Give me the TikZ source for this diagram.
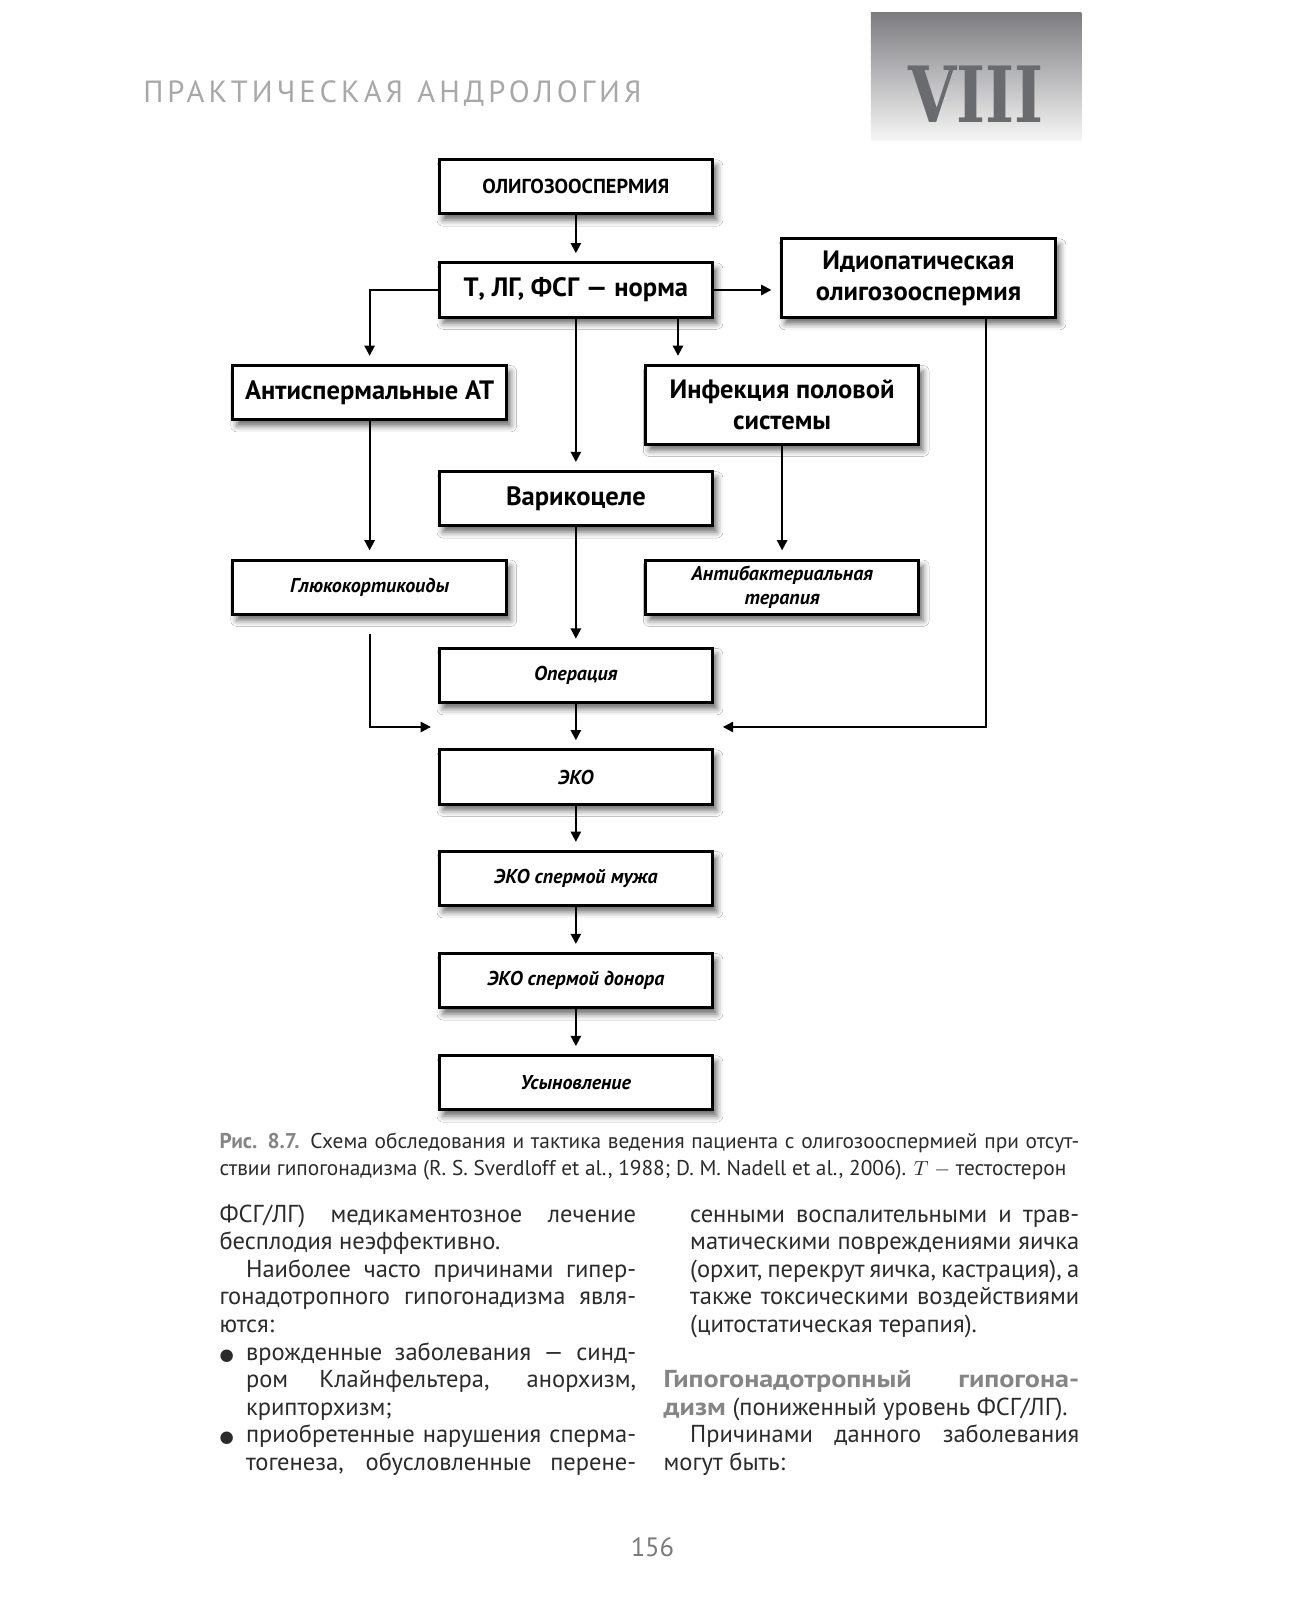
\documentclass[tikz,border=0pt]{standalone}
\usepackage{fontspec}
\setmainfont{PT Sans}
\newfontfamily\hdrfont[LetterSpace=13]{PT Sans}
\newfontfamily\viiifont{DejaVu Serif}
\newfontfamily\dvfont{DejaVu Sans}
\usetikzlibrary{arrows.meta,shadows.blur,calc}
\definecolor{txtc}{HTML}{2B2B2B}
\definecolor{grayhd}{HTML}{858585}
\definecolor{hdrc}{HTML}{A8A8A8}
\definecolor{viiic}{HTML}{6A6B6E}
\definecolor{pgnum}{HTML}{7A7A7A}
\definecolor{gradtop}{HTML}{7C7C80}
\definecolor{gradbot}{HTML}{F6F6F6}
\newcommand{\jl}[2]{\makebox[#1][s]{#2}}
\newcommand{\bul}{\makebox[0pt][r]{\dvfont\fontsize{8}{10}\selectfont ●\hspace{6pt}}}
\tikzset{
  box/.style={draw=black, line width=1.5pt, fill=white, minimum width=134pt,
    minimum height=26.5pt, inner sep=2pt, align=center, text=black,
    blur shadow={shadow xshift=2pt, shadow yshift=-3pt, shadow blur radius=3pt, shadow opacity=60}},
  bigtxt/.style={font=\fontsize{13}{15}\selectfont\bfseries},
  captxt/.style={font=\fontsize{9.9}{11}\selectfont\bfseries},
  ittxt/.style={font=\fontsize{9.8}{12}\selectfont\bfseries\itshape},
  arr/.style={line width=1pt, -{Triangle[length=5pt,width=5pt]}, shorten >=4pt},
  arrn/.style={line width=1pt, -{Triangle[length=5pt,width=5pt]}},
  txt/.style={inner sep=0pt, outer sep=0pt, anchor=base west, text=txtc,
    font=\fontsize{12}{13.5}\selectfont},
  captn/.style={inner sep=0pt, outer sep=0pt, anchor=base west, text=txtc,
    font=\fontsize{10.45}{13}\selectfont}
}
\begin{document}
\begin{tikzpicture}[x=0.5pt,y=-0.5pt]
\useasboundingbox (0,0) rectangle (1271,1568);
\fill[white] (0,0) rectangle (1271,1568);

% header
\node[inner sep=0pt, anchor=base west, text=hdrc, font=\hdrfont\fontsize{15}{17}\selectfont] (hdr) at (140,100) {ПРАКТИЧЕСКАЯ\hspace{7pt}АНДРОЛОГИЯ};
\shade[top color=gradtop, bottom color=gradbot] (853,12) rectangle (1059,138);
\node[inner sep=0pt, text=viiic, font=\viiifont\bfseries\fontsize{38}{40}\selectfont] (viii) at (956,92) {\scalebox{0.8}[1]{VIII}};

% boxes
\node[box, captxt] (b1) at (564,183) {ОЛИГОЗООСПЕРМИЯ};
\node[box, bigtxt] (b2) at (564,284) {Т, ЛГ, ФСГ — норма};
\node[box, bigtxt, minimum width=134.5pt, minimum height=38.5pt] (id) at (899.5,272.5) {Идиопатическая\\олигозооспермия};
\node[box, bigtxt] (an) at (362,384.5) {Антиспермальные АТ};
\node[box, bigtxt, minimum height=38.5pt] (inf) at (766,396.5) {Инфекция половой\\системы};
\node[box, bigtxt] (var) at (564,488.5) {Варикоцеле};
\node[box, ittxt] (gl) at (362,575) {Глюкокортикоиды};
\node[box, ittxt] (ab) at (766,575) {Антибактериальная\\терапия};
\node[box, ittxt] (op) at (564,661.5) {Операция};
\node[box, ittxt] (eko) at (564,761) {ЭКО};
\node[box, ittxt] (ekom) at (564,860.5) {ЭКО спермой мужа};
\node[box, ittxt] (ekod) at (564,960.5) {ЭКО спермой донора};
\node[box, ittxt] (us) at (564,1060.5) {Усыновление};

% connectors
\draw[arr] (b1) -- (b2);
\draw[arr] (b2.east) -- (b2.east -| id.west);
\draw[arr] (b2.west) -| (an.north);
\coordinate (b2r) at ($(b2.south)+(100,0)$);
\draw[arr] (b2r) -- (b2r |- inf.north);
\draw[arr] (b2) -- (var);
\draw[arr] (an) -- (gl);
\draw[arr] (inf) -- (ab);
\draw[arr] (var) -- (op);
\coordinate (g1) at ($(gl.south)+(0,18)$);
\coordinate (jl) at (422,712);
\draw[arrn] (g1) |- (jl);
\coordinate (idb) at ($(id.south)+(66.5,0)$);
\coordinate (jr) at (708,712);
\draw[arrn] (idb) |- (jr);
\draw[arr] (op) -- (eko);
\draw[arr] (eko) -- (ekom);
\draw[arr] (ekom) -- (ekod);
\draw[arr] (ekod) -- (us);

% caption
\node[captn] (c1) at (215,1125) {\jl{421pt}{{\color{grayhd}\bfseries Рис. 8.7.} Схема обследования и тактика ведения пациента с олигозооспермией при отсут-}};
\node[captn] (c2) at (215,1151) {ствии гипогонадизма (R. S. Sverdloff et al., 1988; D. M. Nadell et al., 2006). $T$ $-$ тестостерон};

% left column
\node[txt] (l1) at (215,1197) {\jl{204pt}{ФСГ/ЛГ) медикаментозное лечение}};
\node[txt] (l2) at (215,1224) {бесплодия неэффективно.};
\node[txt] (l3) at (241,1251) {\jl{191pt}{Наиболее часто причинами гипер-}};
\node[txt] (l4) at (215,1278) {\jl{204pt}{гонадотропного гипогонадизма явля-}};
\node[txt] (l5) at (215,1305) {ются:};
\node[txt] (l6) at (241,1332) {\bul\jl{191pt}{врожденные заболевания — синд-}};
\node[txt] (l7) at (241,1359) {\jl{191pt}{ром Клайнфельтера, анорхизм,}};
\node[txt] (l8) at (241,1386) {крипторхизм;};
\node[txt] (l9) at (241,1413) {\bul\jl{191pt}{приобретенные нарушения сперма-}};
\node[txt] (l10) at (241,1440) {\jl{191pt}{тогенеза, обусловленные перене-}};

% right column
\node[txt] (r1) at (676,1197) {\jl{190.5pt}{сенными воспалительными и трав-}};
\node[txt] (r2) at (676,1224) {\jl{190.5pt}{матическими повреждениями яичка}};
\node[txt] (r3) at (676,1251) {\jl{190.5pt}{(орхит, перекрут яичка, кастрация), а}};
\node[txt] (r4) at (676,1278) {\jl{190.5pt}{также токсическими воздействиями}};
\node[txt] (r5) at (676,1305) {(цитостатическая терапия).};
\node[txt] (r7) at (650,1359) {\makebox[203.5pt][l]{\color{grayhd}\bfseries\scalebox{1.15}[1]{Гипогонадотропный}\hfill\scalebox{1.15}[1]{гипогона-}}};
\node[txt] (r8) at (650,1386) {{\color{grayhd}\bfseries\scalebox{1.15}[1]{дизм}} (пониженный уровень ФСГ/ЛГ).};
\node[txt] (r9) at (676,1413) {\jl{190.5pt}{Причинами данного заболевания}};
\node[txt] (r10) at (650,1440) {могут быть:};

% page number
\node[inner sep=0pt, text=pgnum, font=\fontsize{13}{15}\selectfont] (pg) at (639,1515) {156};
\end{tikzpicture}
\end{document}
